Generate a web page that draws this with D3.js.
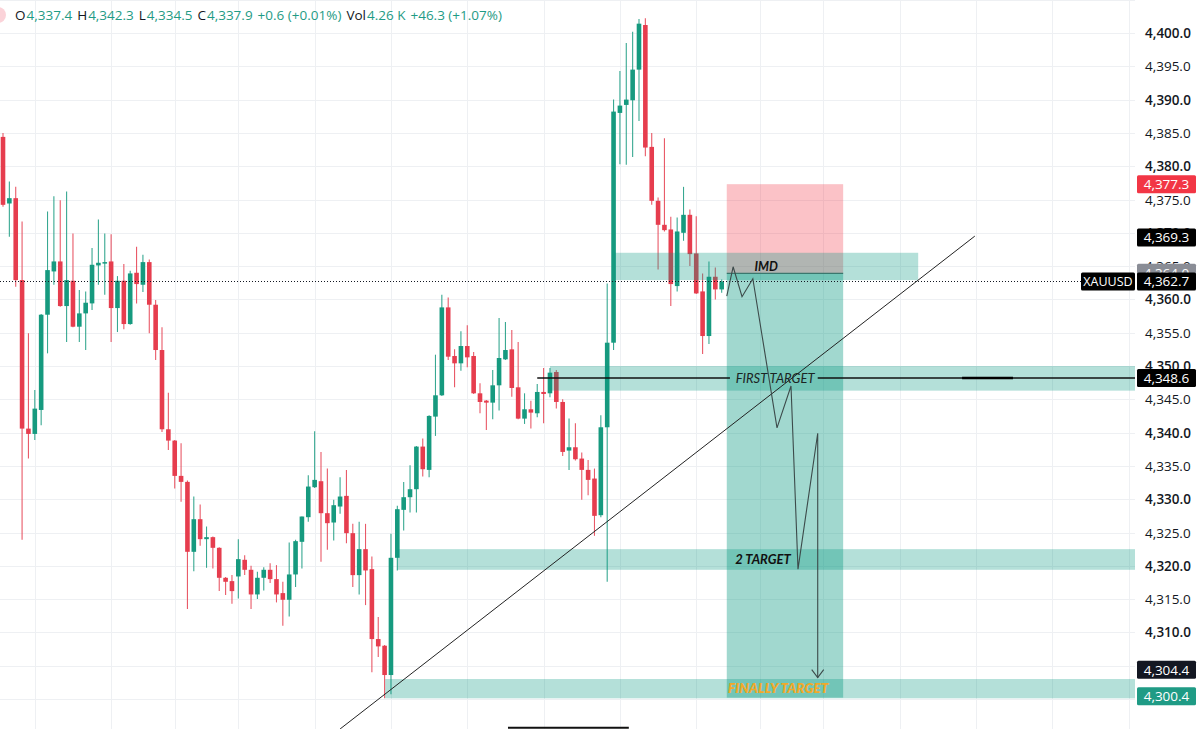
<!DOCTYPE html>
<html><head><meta charset="utf-8">
<script src="https://cdn.jsdelivr.net/npm/d3@7"></script>
<style>
body{margin:0;background:#fff;overflow:hidden}
svg{display:block;font-family:"Open Sans",sans-serif}
</style>
</head><body>
<svg id="chart" width="1200" height="729"></svg>
<script>
// ---------- DATA ----------
const opens = [4384.4,4374.4,4375.2,4362.9,4340.6,4339.8,4343.4,4357.7,4364.2,4365.7,
4359.0,4362.8,4355.9,4357.9,4359.4,4365.1,4365.5,4365.7,4358.7,4362.8,
4356.3,4364.0,4362.2,4365.6,4359.2,4352.4,4340.5,4338.8,4333.5,4332.6,
4322.1,4327.0,4324.0,4324.3,4322.7,4318.2,4317.7,4318.4,4320.9,4319.4,
4315.7,4318.2,4319.4,4318.0,4315.9,4314.9,4318.7,4323.6,4327.3,4331.8,
4332.7,4327.9,4326.5,4328.9,4330.5,4324.9,4318.6,4322.5,4319.5,4309.0,
4308.0,4303.6,4321.2,4328.4,4330.3,4331.5,4337.9,4334.4,4342.4,4345.6,
4358.8,4351.5,4350.4,4353.0,4351.5,4345.9,4344.8,4344.5,4347.1,4351.0,
4352.5,4346.8,4342.1,4343.5,4342.9,4346.1,4345.9,4349.1,4344.6,4337.3,
4337.8,4336.1,4334.4,4333.1,4327.6,4340.8,4353.5,4388.0,4389.2,4389.9,
4394.5,4401.2,4382.9,4374.8,4371.2,4370.5,4362.0,4370.0,4372.7,4366.9,
4361.2,4354.5,4363.4,4361.5];
const highs = [4385.0,4377.7,4376.9,4371.7,4354.9,4346.4,4357.8,4373.2,4375.5,4374.9,
4376.2,4369.9,4361.4,4361.2,4367.7,4372.0,4369.9,4369.8,4363.5,4365.3,
4364.3,4367.9,4366.7,4366.0,4359.9,4355.8,4346.0,4338.9,4338.4,4332.8,
4330.4,4329.2,4325.9,4324.4,4322.8,4318.3,4318.6,4324.0,4321.6,4320.0,
4319.1,4319.8,4320.4,4320.1,4317.6,4323.5,4323.9,4327.4,4333.6,4340.2,
4337.1,4334.6,4329.9,4333.3,4334.4,4326.3,4326.6,4326.3,4321.4,4312.3,
4308.1,4324.8,4329.0,4332.6,4335.1,4338.0,4339.1,4342.6,4351.7,4360.7,
4360.3,4352.5,4355.2,4356.1,4352.1,4347.4,4344.9,4349.4,4357.2,4356.6,
4355.4,4353.6,4345.9,4344.8,4347.3,4349.7,4349.7,4349.4,4345.0,4342.1,
4341.4,4337.0,4335.9,4334.6,4342.6,4362.4,4390.0,4394.3,4398.5,4400.2,
4402.1,4402.2,4385.0,4375.3,4384.2,4372.4,4372.3,4376.9,4373.5,4372.5,
4363.9,4365.7,4364.8,4363.0];
const lows = [4373.9,4369.4,4361.9,4323.9,4336.1,4338.9,4341.1,4351.9,4362.2,4358.9,
4353.6,4355.8,4353.6,4352.4,4358.4,4362.2,4360.7,4353.6,4355.1,4355.5,
4356.2,4359.4,4361.1,4354.9,4350.9,4340.1,4337.4,4331.6,4329.6,4313.5,
4319.2,4323.0,4319.7,4319.6,4316.2,4315.6,4314.3,4315.1,4318.6,4313.5,
4315.0,4316.3,4317.4,4314.5,4311.0,4312.4,4316.8,4319.6,4326.6,4331.7,
4320.6,4322.4,4323.8,4327.8,4323.4,4316.8,4315.7,4314.1,4304.0,4306.3,
4300.1,4300.7,4319.3,4325.3,4328.0,4328.0,4333.4,4333.3,4339.5,4345.5,
4350.9,4346.8,4349.3,4349.8,4345.8,4342.9,4340.4,4342.0,4343.3,4350.9,
4345.4,4342.0,4341.3,4340.6,4342.3,4341.4,4345.3,4343.6,4336.5,4334.4,
4335.8,4329.9,4330.6,4324.5,4327.3,4317.6,4352.4,4380.3,4380.2,4381.4,
4386.8,4381.5,4374.2,4364.5,4370.2,4359.0,4361.2,4368.8,4365.0,4360.8,
4351.8,4353.3,4360.0,4361.0];
const closes = [4374.2,4375.2,4362.9,4340.6,4339.8,4343.6,4357.7,4364.4,4365.7,4359.0,
4362.9,4355.9,4357.9,4359.5,4365.2,4365.5,4365.6,4358.7,4362.8,4356.3,
4363.9,4362.3,4365.6,4359.2,4352.4,4340.5,4338.8,4333.5,4332.6,4322.1,
4327.0,4324.0,4324.3,4322.7,4318.2,4317.6,4316.2,4321.0,4319.4,4315.7,
4318.2,4319.4,4318.0,4315.7,4314.9,4318.7,4323.7,4327.4,4331.9,4332.9,
4327.9,4326.4,4329.1,4330.4,4324.9,4318.6,4322.5,4319.3,4309.0,4307.9,
4303.6,4321.2,4328.5,4330.3,4331.5,4337.9,4334.5,4342.5,4345.6,4358.8,
4351.4,4350.4,4353.0,4351.3,4345.9,4344.6,4344.5,4347.1,4351.2,4352.4,
4346.7,4342.1,4343.5,4343.0,4346.1,4345.8,4349.0,4344.6,4337.1,4337.8,
4336.0,4334.4,4332.9,4327.5,4340.8,4353.5,4388.2,4389.1,4390.0,4394.5,
4401.4,4382.8,4374.8,4371.2,4370.4,4362.3,4370.2,4372.7,4366.8,4360.9,
4354.5,4363.4,4361.5,4362.7];

const gridPrices = d3.range(4300, 4405.01, 5);
const tickLabels = d3.range(4310, 4400.01, 5);
const gridBars = [5,17,27,37,49,61,73,85,97,109,119,129,141,153,165,177];

// header legend
const legendLabels = ["O","H","L","C","","Vol",""];
const legendValues = ["4,337.4","4,342.3","4,334.5","4,337.9","+0.6 (+0.01%)","4.26 K","+46.3 (+1.07%)"];

// horizontal target bands
const bandNames  = ["IMD","FIRST","SECOND","FINAL"];
const bandStart  = [96.2, 86.0, 62.0, 60.1];
const bandEnd    = [143.9, 185, 185, 185];
const bandTop    = [4367.0, 4350.0, 4322.5, 4303.0];
const bandBottom = [4362.9, 4346.3, 4319.4, 4300.1];

// short position tool
const posStart = 113.8, posEnd = 132.1;
const posEntry = 4363.9, posStop = 4377.3, posTarget = 4300.2;

// trend line
const trendBars = [53.0, 152.8];
const trendPrices = [4295.5, 4369.5];

// first target line
const firstLineStart = 84.0, firstLinePrice = 4348.2;
const firstLineGap = [114.3, 128.1];
const firstLineHeavy = [150.8, 158.8];

// projected zigzag path
const pathBars   = [113.8,114.8,116.2,117.9,121.7,123.9,125.0,128.1,128.1];
const pathPrices = [4360.5,4364.9,4360.4,4363.1,4340.7,4347.0,4319.5,4339.9,4303.2];

// annotation texts
const noteTexts  = ["IMD","FIRST TARGET","2 TARGET","FINALLY TARGET"];
const noteBars   = [120.0, 121.4, 119.5, 121.9];
const notePrices = [4365.0, 4348.2, 4321.0, 4301.6];

// bottom line
const bottomBars = [79.4, 98.4], bottomPrice = 4295.7;

// axis price labels
const tagValues = [4377.3, 4369.3, 4364.0, 4362.7, 4348.2, 4304.4, 4300.4];
const tagTexts  = ["4,377.3","4,369.3","4,364.0","4,362.7","4,348.6","4,304.4","4,300.4"];
const tagColors = ["#f23645","#000000","#8a8d96","#000000","#000000","#131722","#1f9b85"];
const lastPrice = 4362.7;

// ---------- CHART ----------
const W = 1200, H = 729, plotR = 1135;
const svg = d3.select("#chart");
const x = d3.scaleLinear().domain([0, 113]).range([3, 3 + 113*6.36]);
const y = d3.scaleLinear().domain([4300, 4400]).range([699, 33]);

svg.append("defs").append("clipPath").attr("id","plot")
  .append("rect").attr("x",0).attr("y",0).attr("width",plotR).attr("height",H);

const plot = svg.append("g").attr("clip-path","url(#plot)");

// grid
plot.selectAll(".hg").data(gridPrices).enter().append("line")
  .attr("x1",0).attr("x2",plotR).attr("y1",d=>Math.round(y(d))+0.5).attr("y2",d=>Math.round(y(d))+0.5)
  .attr("stroke","#eef0f3").attr("stroke-width",1);
plot.selectAll(".vg").data(gridBars).enter().append("line")
  .attr("x1",d=>Math.round(x(d))+0.5).attr("x2",d=>Math.round(x(d))+0.5).attr("y1",0).attr("y2",H)
  .attr("stroke","#eef0f3").attr("stroke-width",1);

// candles
const idx = d3.range(opens.length);
const up = i => closes[i] >= opens[i];
const cUp = "#169a7f", cDn = "#e63d4e";
plot.selectAll(".wick").data(idx).enter().append("line")
  .attr("x1",i=>x(i)).attr("x2",i=>x(i))
  .attr("y1",i=>y(highs[i])).attr("y2",i=>y(lows[i]))
  .attr("stroke",i=>up(i)?cUp:cDn).attr("stroke-width",1.1).attr("opacity",0.85);
plot.selectAll(".body").data(idx).enter().append("rect")
  .attr("x",i=>x(i)-2.3).attr("width",4.6)
  .attr("y",i=>y(Math.max(opens[i],closes[i])))
  .attr("height",i=>Math.max(1.5, Math.abs(y(opens[i])-y(closes[i]))))
  .attr("fill",i=>up(i)?cUp:cDn);

// position tool
plot.append("rect").attr("x",x(posStart)).attr("width",x(posEnd)-x(posStart))
  .attr("y",y(posStop)).attr("height",y(posEntry)-y(posStop))
  .attr("fill","rgba(242,54,69,0.3)");
plot.append("rect").attr("x",x(posStart)).attr("width",x(posEnd)-x(posStart))
  .attr("y",y(posEntry)).attr("height",y(posTarget)-y(posEntry))
  .attr("fill","rgba(8,153,129,0.38)");
plot.append("line").attr("x1",x(posStart)).attr("x2",x(posEnd))
  .attr("y1",y(posEntry)).attr("y2",y(posEntry)).attr("stroke","#4f6a66").attr("stroke-width",1.2);

// bands
plot.selectAll(".band").data(d3.range(bandNames.length)).enter().append("rect")
  .attr("x",i=>x(bandStart[i])).attr("width",i=>x(bandEnd[i])-x(bandStart[i]))
  .attr("y",i=>y(bandTop[i])).attr("height",i=>y(bandBottom[i])-y(bandTop[i]))
  .attr("fill","rgba(8,153,129,0.3)");

// last price dotted line
plot.append("line").attr("x1",0).attr("x2",plotR)
  .attr("y1",Math.round(y(lastPrice))+0.5).attr("y2",Math.round(y(lastPrice))+0.5)
  .attr("stroke","#131722").attr("stroke-width",1).attr("stroke-dasharray","1,2");

// trend line
plot.append("line").attr("x1",x(trendBars[0])).attr("y1",y(trendPrices[0]))
  .attr("x2",x(trendBars[1])).attr("y2",y(trendPrices[1]))
  .attr("stroke","#222").attr("stroke-width",1);

// first target line
const fy = y(firstLinePrice);
plot.append("line").attr("x1",x(firstLineStart)).attr("x2",x(firstLineGap[0]))
  .attr("y1",fy).attr("y2",fy).attr("stroke","#111").attr("stroke-width",1.6);
plot.append("line").attr("x1",x(firstLineGap[1])).attr("x2",plotR)
  .attr("y1",fy).attr("y2",fy).attr("stroke","#111").attr("stroke-width",1.6);
plot.append("line").attr("x1",x(firstLineHeavy[0])).attr("x2",x(firstLineHeavy[1]))
  .attr("y1",fy).attr("y2",fy).attr("stroke","#000").attr("stroke-width",2.4);

// zigzag path
const pts = pathBars.map((b,i)=>[x(b), y(pathPrices[i])]);
plot.append("path").attr("d", d3.line()(pts)).attr("fill","none")
  .attr("stroke","#3c4a4a").attr("stroke-width",1.1);
const tip = pts[pts.length-1];
plot.append("path").attr("d", d3.line()([[tip[0]-6,tip[1]-8],tip,[tip[0]+6,tip[1]-8]]))
  .attr("fill","none").attr("stroke","#3c4a4a").attr("stroke-width",1.1);

// bottom line
plot.append("line").attr("x1",x(bottomBars[0])).attr("x2",x(bottomBars[1]))
  .attr("y1",y(bottomPrice)).attr("y2",y(bottomPrice)).attr("stroke","#111").attr("stroke-width",2);

// annotation texts
const noteStyle = [
  {size:12.5, weight:700, fill:"#111"},
  {size:13, weight:400, fill:"#1b2424"},
  {size:13, weight:700, fill:"#111"},
  {size:13.5, weight:800, fill:"#f0a92a"}];
noteTexts.forEach((t,i)=>{
  plot.append("text").attr("x",x(noteBars[i])).attr("y",y(notePrices[i]))
    .attr("text-anchor","middle").attr("dominant-baseline","central")
    .attr("font-style","italic").attr("font-size",noteStyle[i].size)
    .attr("font-weight",noteStyle[i].weight).attr("fill",noteStyle[i].fill)
    .attr("font-family","Lato, 'Open Sans', sans-serif")
    .text(t);
});

// price axis
const axisG = svg.append("g");
axisG.selectAll("text").data(tickLabels).enter().append("text")
  .attr("x",1145).attr("y",d=>y(d)).attr("dominant-baseline","central")
  .attr("font-size",13.5).attr("fill","#131722")
  .attr("font-weight",d=>(d%10===0)?600:400)
  .text(d=>d3.format(",.1f")(d));

// tags
tagValues.forEach((v,i)=>{
  const cy = y(v);
  axisG.append("rect").attr("x",1137).attr("y",cy-9).attr("width",59).attr("height",18)
    .attr("rx",1.5).attr("fill",tagColors[i]);
  axisG.append("text").attr("x",1166.5).attr("y",cy).attr("text-anchor","middle")
    .attr("dominant-baseline","central").attr("font-size",13.5).attr("fill","#fff")
    .text(tagTexts[i]);
});
// symbol tag
const ly = y(lastPrice);
svg.append("rect").attr("x",1081).attr("y",ly-9).attr("width",54).attr("height",18).attr("rx",1.5).attr("fill","#000");
svg.append("text").attr("x",1108).attr("y",ly).attr("text-anchor","middle").attr("dominant-baseline","central")
  .attr("font-size",12.5).attr("fill","#fff").text("XAUUSD");

// header legend
svg.append("circle").attr("cx",-2).attr("cy",15).attr("r",8).attr("fill","#fbd3d9");
const leg = svg.append("text").attr("x",15).attr("y",20).attr("font-size",13.5);
legendLabels.forEach((l,i)=>{
  if(l) leg.append("tspan").attr("fill","#131722").attr("dx", i===0?0:5).text(l);
  leg.append("tspan").attr("fill","#1f9b85").attr("dx", l? 1 : 5).text(legendValues[i]);
});
</script>
</body></html>
